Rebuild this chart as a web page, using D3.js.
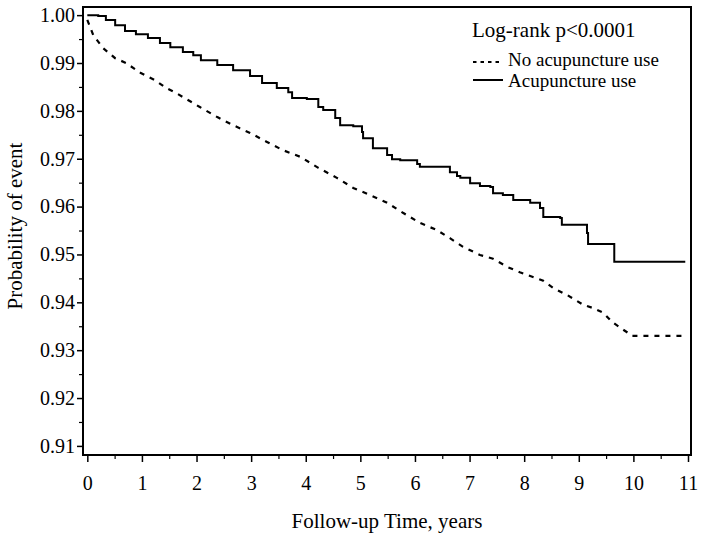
<!DOCTYPE html>
<html><head><meta charset="utf-8">
<script src="https://cdn.jsdelivr.net/npm/d3@7"></script>
<style>
body{margin:0;background:#fff}
text{font-family:"Liberation Serif","Times New Roman",serif;fill:#000}
</style>
</head><body>
<svg id="c" width="702" height="540"></svg>
<script>
// Acupuncture use (solid, step function)
const acuTime = [0, 0.2, 0.34, 0.51, 0.69, 0.89, 1.11, 1.33, 1.52, 1.75, 1.94, 2.08, 2.38, 2.67, 2.98, 3.2, 3.47, 3.68, 3.75, 4.02, 4.23, 4.32, 4.54, 4.63, 4.87, 5.03, 5.05, 5.23, 5.49, 5.58, 5.73, 6.04, 6.09, 6.64, 6.77, 6.83, 7.01, 7.19, 7.38, 7.43, 7.61, 7.8, 8.11, 8.29, 8.35, 8.66, 8.69, 9.15, 9.17, 9.65, 10.95];
const acuSurv = [1.0, 0.9998, 0.999, 0.9979, 0.9967, 0.996, 0.9952, 0.9942, 0.9933, 0.9923, 0.9916, 0.9906, 0.9896, 0.9885, 0.9873, 0.9858, 0.9848, 0.9839, 0.9827, 0.9825, 0.9808, 0.9802, 0.9785, 0.977, 0.9768, 0.9756, 0.9743, 0.9722, 0.9708, 0.9699, 0.9697, 0.9689, 0.9683, 0.9672, 0.9664, 0.966, 0.9649, 0.9643, 0.9641, 0.9628, 0.9624, 0.9614, 0.9608, 0.9597, 0.9578, 0.9576, 0.9562, 0.9545, 0.9522, 0.9485, 0.9485];
// No acupuncture use (dashed)
const noTime = [0, 0.11, 0.29, 0.51, 0.71, 0.98, 1.24, 1.44, 1.63, 2.06, 2.38, 2.67, 2.98, 3.29, 3.58, 3.9, 4.23, 4.57, 4.87, 5.18, 5.49, 5.78, 6.09, 6.4, 6.64, 6.88, 7.19, 7.43, 7.69, 7.92, 8.16, 8.35, 8.53, 8.79, 9.08, 9.26, 9.45, 9.61, 9.76, 9.98, 10.98];
const noSurv = [0.999, 0.9958, 0.9931, 0.991, 0.99, 0.9879, 0.9864, 0.9848, 0.9837, 0.9808, 0.9787, 0.977, 0.9754, 0.9735, 0.9718, 0.9704, 0.9681, 0.966, 0.9639, 0.9624, 0.9608, 0.9587, 0.9566, 0.9551, 0.9534, 0.9516, 0.9499, 0.9491, 0.9474, 0.9463, 0.9453, 0.9445, 0.943, 0.9415, 0.9395, 0.9388, 0.9378, 0.9359, 0.9347, 0.933, 0.933];

const xTicks = [0,1,2,3,4,5,6,7,8,9,10,11];
const xMinorTicks = [0.5,1.5,2.5,3.5,4.5,5.5,6.5,7.5,8.5,9.5,10.5];
const yTicks = [0.91,0.92,0.93,0.94,0.95,0.96,0.97,0.98,0.99,1.00];
const yMinorTicks = [0.915,0.925,0.935,0.945,0.955,0.965,0.975,0.985,0.995];
const seriesNames = ["No acupuncture use", "Acupuncture use"];
const pText = "Log-rank p<0.0001";
const xTitle = "Follow-up Time, years";
const yTitle = "Probability of event";

const L = 83, R = 691, T = 7, B = 455;
const svg = d3.select('#c');
const x = d3.scaleLinear().domain([-0.079, 11.055]).range([L, R]);
const y = d3.scaleLinear().domain([0.9081, 1.0017]).range([B, T]);

const fs = 20;
// x axis
const gx = svg.append('g').attr('transform', `translate(0,${B})`)
  .call(d3.axisBottom(x).tickValues(xTicks).tickFormat(d3.format('d')).tickSize(7).tickSizeOuter(0).tickPadding(14));
gx.select('.domain').remove();
gx.selectAll('text').style('font-size', fs + 'px').attr('font-family', null);
gx.selectAll('line').attr('stroke-width', 1.5);
const gxm = svg.append('g').attr('transform', `translate(0,${B})`)
  .call(d3.axisBottom(x).tickValues(xMinorTicks).tickFormat('').tickSize(4).tickSizeOuter(0));
gxm.select('.domain').remove();
gxm.selectAll('line').attr('stroke-width', 1.2);

// y axis
const gy = svg.append('g').attr('transform', `translate(${L},0)`)
  .call(d3.axisLeft(y).tickValues(yTicks).tickFormat(d3.format('.2f')).tickSize(6).tickSizeOuter(0).tickPadding(2));
gy.select('.domain').remove();
gy.selectAll('text').style('font-size', fs + 'px').attr('font-family', null);
gy.selectAll('line').attr('stroke-width', 1.5);
const gym = svg.append('g').attr('transform', `translate(${L},0)`)
  .call(d3.axisLeft(y).tickValues(yMinorTicks).tickFormat('').tickSize(4).tickSizeOuter(0));
gym.select('.domain').remove();
gym.selectAll('line').attr('stroke-width', 1.2);

// frame
svg.append('rect').attr('x', L).attr('y', T).attr('width', R - L).attr('height', B - T)
  .attr('fill', 'none').attr('stroke', '#000').attr('stroke-width', 2);

// clip
svg.append('clipPath').attr('id', 'clip').append('rect')
  .attr('x', L).attr('y', T).attr('width', R - L).attr('height', B - T);

const noData = noTime.map((t, i) => [t, noSurv[i]]);
const acuData = acuTime.map((t, i) => [t, acuSurv[i]]);

svg.append('path').datum(noData)
  .attr('clip-path', 'url(#clip)')
  .attr('d', d3.line().x(d => x(d[0])).y(d => y(d[1])).curve(d3.curveLinear))
  .attr('fill', 'none').attr('stroke', '#000').attr('stroke-width', 2.2)
  .attr('stroke-dasharray', '5,6');

svg.append('path').datum(acuData)
  .attr('clip-path', 'url(#clip)')
  .attr('d', d3.line().x(d => x(d[0])).y(d => y(d[1])).curve(d3.curveStepAfter))
  .attr('fill', 'none').attr('stroke', '#000').attr('stroke-width', 2);

// titles
svg.append('text').attr('x', 387).attr('y', 528).attr('text-anchor', 'middle')
  .style('font-size', '21px').text(xTitle);
svg.append('text').attr('transform', 'translate(22,226) rotate(-90)').attr('text-anchor', 'middle')
  .style('font-size', '21px').text(yTitle);

// legend
svg.append('text').attr('x', 472).attr('y', 37).style('font-size', '21px').text(pText);
const leg = [{name: seriesNames[0], dash: '3.5,4', yy: 62, ty: 66},
             {name: seriesNames[1], dash: null, yy: 80, ty: 87}];
leg.forEach(d => {
  svg.append('line').attr('x1', 473).attr('x2', 503).attr('y1', d.yy).attr('y2', d.yy)
    .attr('stroke', '#000').attr('stroke-width', 2).attr('stroke-dasharray', d.dash);
  svg.append('text').attr('x', 508).attr('y', d.ty).style('font-size', '19px').text(d.name);
});
</script>
</body></html>
